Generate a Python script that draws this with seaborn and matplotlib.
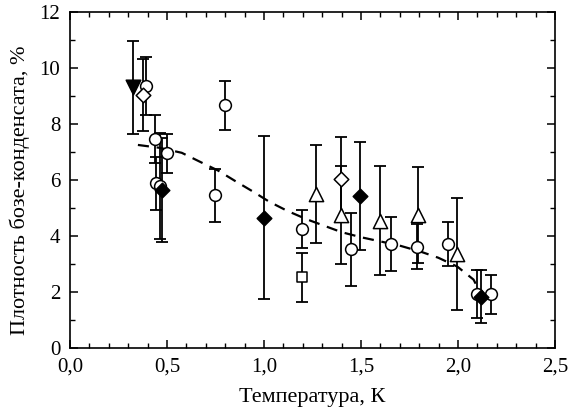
import matplotlib
matplotlib.use("Agg")
import matplotlib.pyplot as plt
import seaborn as sns
import numpy as np
from matplotlib.ticker import MultipleLocator, FuncFormatter

# ---- data ----
circ_T = [0.390, 0.438, 0.502, 0.443, 0.466, 0.747, 0.799, 1.194, 1.447, 1.653, 1.790, 1.950, 2.100, 2.168]
circ_v = [9.35, 7.46, 6.95, 5.88, 5.79, 5.45, 8.67, 4.25, 3.53, 3.72, 3.62, 3.72, 1.94, 1.93]
circ_e = [1.05, 0.86, 0.70, 0.94, 1.90, 0.95, 0.87, 0.68, 1.30, 0.96, 0.80, 0.80, 0.85, 0.70]

tri_T = [1.266, 1.395, 1.598, 1.796, 1.997]
tri_v = [5.50, 4.75, 4.55, 4.75, 3.36]
tri_e = [1.75, 1.75, 1.94, 1.72, 2.00]

odia_T = [0.378, 1.395]
odia_v = [9.03, 6.02]
odia_e = [1.30, 1.50]

fdia_T = [0.472, 1.000, 1.497, 2.117]
fdia_v = [5.65, 4.66, 5.43, 1.84]
fdia_e = [1.85, 2.90, 1.93, 0.95]

dtri_T = [0.326]
dtri_v = [9.30]
dtri_e = [1.67]

sq_T = [1.194]
sq_v = [2.53]
sq_e = [0.87]

fit_T = [0.35, 0.46, 0.576, 0.67, 0.765, 0.85, 0.945, 1.026, 1.12, 1.22, 1.31, 1.40,
         1.50, 1.607, 1.705, 1.81, 1.898, 1.997, 2.08, 2.11]
fit_v = [7.25, 7.15, 6.97, 6.65, 6.33, 5.97, 5.58, 5.23, 4.90, 4.60, 4.37, 4.14,
         3.96, 3.80, 3.65, 3.44, 3.23, 2.91, 2.45, 2.05]

x_ticks = [0.0, 0.5, 1.0, 1.5, 2.0, 2.5]
y_ticks = [0, 2, 4, 6, 8, 10, 12]
xlabel = "Температура, К"
ylabel = "Плотность бозе-конденсата, %"

# ---- style ----
sns.set_theme(style="ticks")
plt.rcParams['font.family'] = ['Liberation Serif', 'DejaVu Serif']

fig = plt.figure(figsize=(5.7, 4.15), dpi=100)
ax = fig.add_axes([0.1228, 0.1607, 0.8509, 0.8111])

# dashed fit line
sns.lineplot(x=fit_T, y=fit_v, ax=ax, color='black', linewidth=1.6,
             sort=False, estimator=None, zorder=2)
ax.lines[-1].set_dashes([5, 3.5])

groups = [
    (circ_T, circ_v, circ_e, 'o', 'white', 72),
    (tri_T, tri_v, tri_e, '^', 'white', 105),
    (odia_T, odia_v, odia_e, 'D', 'white', 55),
    (fdia_T, fdia_v, fdia_e, 'D', 'black', 55),
    (dtri_T, dtri_v, dtri_e, 'v', 'black', 110),
    (sq_T, sq_v, sq_e, 's', 'white', 52),
]
for T, v, e, m, fc, s in groups:
    ax.errorbar(T, v, yerr=e, fmt='none', ecolor='black', elinewidth=1.3,
                capsize=4.2, capthick=1.3, zorder=2.5)
    sns.scatterplot(x=T, y=v, ax=ax, marker=m, s=s, color=fc,
                    edgecolor='black', linewidth=1.1, zorder=3, legend=False)

ax.set_xlim(0, 2.5)
ax.set_ylim(0, 12)
ax.set_xticks(x_ticks)
ax.set_yticks(y_ticks)
ax.xaxis.set_minor_locator(MultipleLocator(0.1))
ax.yaxis.set_minor_locator(MultipleLocator(1))
ax.xaxis.set_major_formatter(FuncFormatter(lambda val, pos: f"{val:.1f}".replace('.', ',')))
ax.yaxis.set_major_formatter(FuncFormatter(lambda val, pos: f"{int(round(val))}"))
ax.tick_params(which='both', direction='in', top=True, right=True, color='black',
               labelsize=15, labelcolor='black')
ax.tick_params(which='major', length=6, width=1.1, pad=7)
ax.tick_params(which='minor', length=3.5, width=1.0)
for sp in ax.spines.values():
    sp.set_visible(True)
    sp.set_color('black')
    sp.set_linewidth(1.2)
ax.set_xlabel(xlabel, fontsize=16, color='black', labelpad=8)
ax.set_ylabel(ylabel, fontsize=16, color='black')
ax.yaxis.set_label_coords(-0.083, 0.47)
ax.grid(False)
ax.set_facecolor('white')

fig.savefig("out.png", dpi=100, facecolor='white')
